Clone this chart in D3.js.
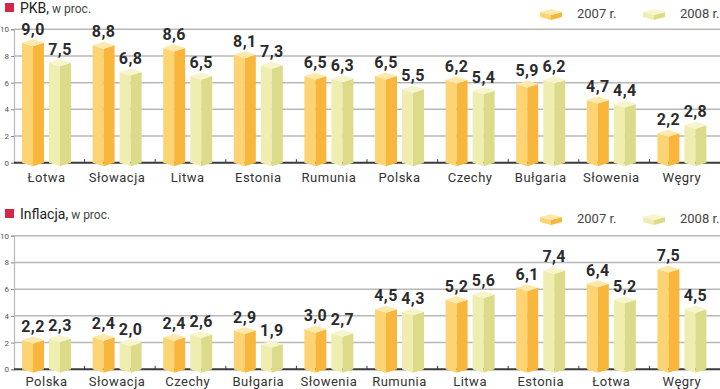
<!DOCTYPE html>
<html>
<head>
<meta charset="utf-8">
<script src="https://cdn.jsdelivr.net/npm/d3@7"></script>
<style>
  body { margin: 0; background: #fff; }
  text { font-family: Roboto, "Noto Sans", sans-serif; }
</style>
</head>
<body>
<div id="chart"></div>
<script>
// data
var years = ["2007 r.", "2008 r."];
var yTicks = [0, 2, 4, 6, 8, 10];

var pkbCategories = ["Łotwa", "Słowacja", "Litwa", "Estonia", "Rumunia", "Polska", "Czechy", "Bułgaria", "Słowenia", "Węgry"];
var pkb2007 = [9.0, 8.8, 8.6, 8.1, 6.5, 6.5, 6.2, 5.9, 4.7, 2.2];
var pkb2008 = [7.5, 6.8, 6.5, 7.3, 6.3, 5.5, 5.4, 6.2, 4.4, 2.8];

var infCategories = ["Polska", "Słowacja", "Czechy", "Bułgaria", "Słowenia", "Rumunia", "Litwa", "Estonia", "Łotwa", "Węgry"];
var inf2007 = [2.2, 2.4, 2.4, 2.9, 3.0, 4.5, 5.2, 6.1, 6.4, 7.5];
var inf2008 = [2.3, 2.0, 2.6, 1.9, 2.7, 4.3, 5.6, 7.4, 5.2, 4.5];

var width = 720, height = 389;

// face colours: [top, left, right]
var colors = {
    "2007 r.": ["#fee9ab", "#fdd474", "#f8b73c"],
    "2008 r.": ["#f6f5cb", "#efeeb0", "#dcdb8a"]
};

var svg = d3.select("#chart")
    .append("svg")
    .attr("width", width)
    .attr("height", height);

function fmt(v) { return d3.format(".1f")(v).replace(".", ","); }

// prism shaped bar: two front faces and a rhombus top
function prism(g, x0, w, yTop, yBase, c, d) {
    var xm = x0 + w / 2, x1 = x0 + w;
    g.append("path")
        .attr("d", "M" + x0 + "," + yTop + "L" + xm + "," + (yTop + d) + "L" + xm + "," + (yBase + d) + "L" + x0 + "," + yBase + "Z")
        .attr("fill", c[1]);
    g.append("path")
        .attr("d", "M" + xm + "," + (yTop + d) + "L" + x1 + "," + yTop + "L" + x1 + "," + yBase + "L" + xm + "," + (yBase + d) + "Z")
        .attr("fill", c[2]);
    g.append("path")
        .attr("d", "M" + x0 + "," + yTop + "L" + xm + "," + (yTop - d) + "L" + x1 + "," + yTop + "L" + xm + "," + (yTop + d) + "Z")
        .attr("fill", c[0]);
}

function drawPanel(cfg) {
    var g = svg.append("g");

    var y = d3.scaleLinear().domain([0, 10]).range([cfg.y0, cfg.y10]);
    var x = d3.scaleBand().domain(cfg.categories).range([14, 720]);
    var x1 = d3.scaleBand().domain(years).range([8, 57]).paddingInner(5 / 27);

    // title
    var t = g.append("text").attr("x", 20).attr("y", cfg.titleY).attr("fill", "#222");
    t.append("tspan").attr("font-size", 14).text(cfg.title);
    t.append("tspan").attr("font-size", 12).attr("fill", "#444").text(" w proc.");
    g.append("rect").attr("x", 5).attr("y", cfg.titleY - 10).attr("width", 9).attr("height", 9).attr("fill", "#d6254a");

    // legend
    years.forEach(function (yr, i) {
        var lx = 540 + i * 103;
        prism(g, lx, 22, cfg.legendY - 2, cfg.legendY + 3, colors[yr], 3);
        g.append("text")
            .attr("x", lx + 37)
            .attr("y", cfg.legendY + 4)
            .attr("font-size", 13)
            .attr("fill", "#444")
            .text(yr);
    });

    // grid
    g.selectAll(".grid")
        .data(yTicks.filter(function (d) { return d > 0; }))
        .enter().append("line")
        .attr("x1", 14).attr("x2", 720)
        .attr("y1", function (d) { return y(d); })
        .attr("y2", function (d) { return y(d); })
        .attr("stroke", "#b8b8b8")
        .attr("stroke-width", 1.5);

    // y axis
    var ay = g.append("g")
        .attr("transform", "translate(14,0)")
        .call(d3.axisLeft(y).tickValues(yTicks).tickSize(3).tickPadding(2));
    ay.select(".domain").attr("stroke", "#b8b8b8").attr("stroke-width", 1.2);
    ay.selectAll(".tick line").attr("stroke", "#888");
    ay.selectAll("text").attr("font-size", 8).attr("fill", "#555")
        .style("font-family", "Roboto, sans-serif");

    // baseline with band ticks
    g.append("line")
        .attr("x1", 14).attr("x2", 720)
        .attr("y1", cfg.y0).attr("y2", cfg.y0)
        .attr("stroke", "#3a3a3a").attr("stroke-width", 2);
    g.selectAll(".bt")
        .data(cfg.categories.slice(1))
        .enter().append("line")
        .attr("x1", function (d) { return x(d); })
        .attr("x2", function (d) { return x(d); })
        .attr("y1", cfg.y0).attr("y2", cfg.y0 - 3.5)
        .attr("stroke", "#3a3a3a").attr("stroke-width", 1);

    // bars
    var series = [cfg.v2007, cfg.v2008];
    cfg.categories.forEach(function (cat, i) {
        years.forEach(function (yr, j) {
            var v = series[j][i];
            var bx = x(cat) + x1(yr);
            prism(g, bx, x1.bandwidth(), y(v), cfg.y0, colors[yr], 3.5);
            g.append("text")
                .attr("x", bx + x1.bandwidth() / 2)
                .attr("y", y(v) - 8)
                .attr("text-anchor", "middle")
                .attr("font-size", 16)
                .attr("font-weight", "bold")
                .attr("letter-spacing", 0.4)
                .attr("fill", "#2b2b2b")
                .text(fmt(v));
        });
    });

    // category labels
    g.selectAll(".cat")
        .data(cfg.categories)
        .enter().append("text")
        .attr("x", function (d) { return x(d) + 32.5; })
        .attr("y", cfg.labelY)
        .attr("text-anchor", "middle")
        .attr("font-size", 13)
        .attr("letter-spacing", 0.5)
        .attr("fill", "#333")
        .text(function (d) { return d; });
}

drawPanel({
    title: "PKB,", titleY: 13, legendY: 14,
    y0: 162.7, y10: 29.3, labelY: 181.5,
    categories: pkbCategories, v2007: pkb2007, v2008: pkb2008
});

drawPanel({
    title: "Inflacja,", titleY: 219, legendY: 219,
    y0: 369.3, y10: 235.7, labelY: 386,
    categories: infCategories, v2007: inf2007, v2008: inf2008
});
</script>
</body>
</html>
